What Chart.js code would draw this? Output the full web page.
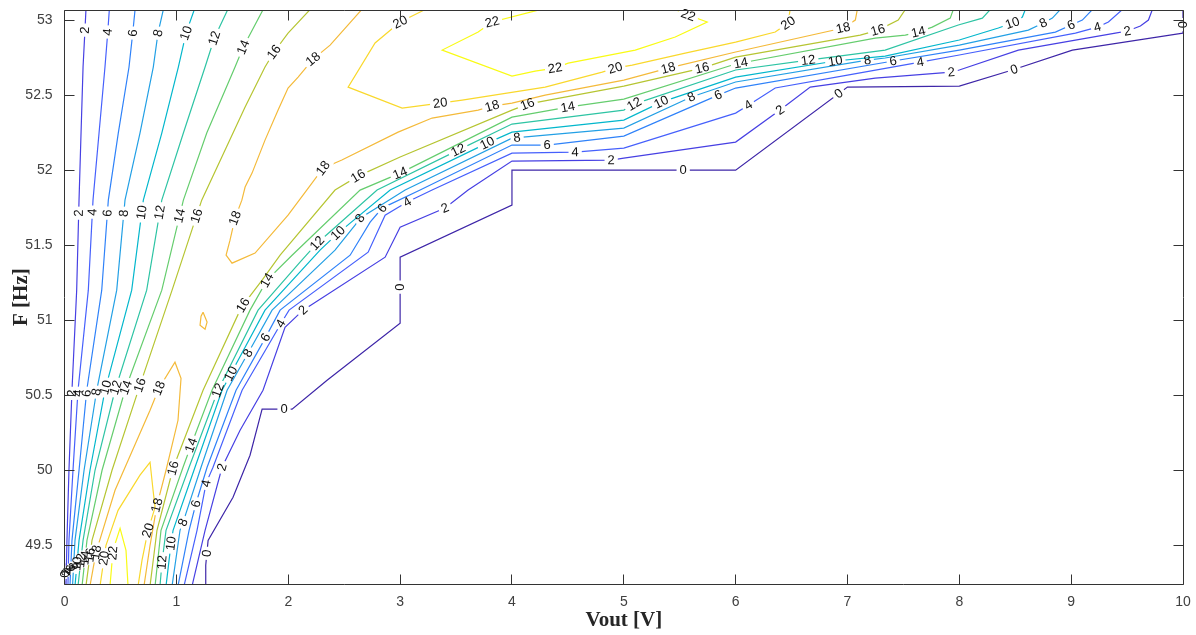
<!DOCTYPE html>
<html>
<head>
<meta charset="utf-8">
<script src="https://cdn.jsdelivr.net/npm/chart.js@4.4.0/dist/chart.umd.min.js"></script>
<style>
  html, body { margin: 0; padding: 0; background: #fff; }
  canvas { display: block; }
</style>
</head>
<body>
<canvas id="contour" width="1196" height="635" style="width:1196px;height:635px"></canvas>
<script>
// Contour levels and axis ticks
const levels = [0, 2, 4, 6, 8, 10, 12, 14, 16, 18, 20, 22];
const xTickValues = [0, 1, 2, 3, 4, 5, 6, 7, 8, 9, 10];
const yTickValues = [49.5, 50, 50.5, 51, 51.5, 52, 52.5, 53];

// Contour polylines: [Vout, F] pairs
const c0 = [[1.262,49.23],[1.262,49.367],[1.283,49.533],[1.506,49.82],[1.658,50.10],[1.766,50.407],[2.034,50.407],[2.347,50.60],[3.0,50.98],[3.0,51.42],[4.0,51.767],[4.0,52.0],[6.0,52.0],[7.0,52.553],[8.0,52.56],[8.474,52.667],[9.011,52.80],[10.0,52.913],[10.0,53.07]];
const c0Corner = [[0,49.23],[0,49.38]];

const c2Left = [[0.191,53.07],[0.182,52.933],[0.165,52.687],[0.147,52.247],[0.129,51.80],[0.108,51.20],[0.066,50.533],[0.039,50.0],[0.021,49.533],[0.0125,49.23]];
const c2Right = [[1.140,49.23],[1.256,49.60],[1.408,50.02],[1.569,50.267],[1.774,50.533],[1.971,50.953],[2.132,51.067],[2.866,51.42],[3.0,51.62],[3.402,51.747],[3.608,51.867],[4.0,52.06],[4.887,52.067],[5.0,52.08],[6.0,52.187],[6.397,52.40],[6.667,52.553],[7.248,52.613],[7.928,52.653],[8.0,52.667],[8.528,52.80],[9.395,52.913],[9.503,52.927],[9.619,52.96],[9.691,53.0],[9.726,53.07]];

const c4Left = [[0.400,53.07],[0.386,52.92],[0.361,52.687],[0.308,52.247],[0.254,51.80],[0.212,51.20],[0.120,50.533],[0.075,50.0],[0.039,49.533],[0.030,49.23]];
const c4Right = [[1.068,49.23],[1.184,49.60],[1.265,49.913],[1.327,50.02],[1.587,50.533],[1.936,50.98],[2.007,51.067],[2.714,51.453],[2.866,51.70],[3.063,51.787],[3.286,51.867],[4.0,52.113],[4.565,52.12],[5.0,52.147],[6.0,52.38],[6.113,52.433],[6.354,52.547],[7.0,52.633],[7.651,52.72],[8.0,52.767],[9.038,52.913],[9.235,52.953],[9.333,52.987],[9.458,53.07]];

const c6Left = [[0.630,53.07],[0.609,52.913],[0.576,52.687],[0.480,52.247],[0.391,51.80],[0.332,51.20],[0.198,50.533],[0.129,50.0],[0.066,49.533],[0.048,49.23]];
const c6Right = [[1.014,49.23],[1.113,49.60],[1.175,49.78],[1.274,50.02],[1.533,50.533],[1.784,50.867],[1.927,51.067],[2.553,51.433],[2.732,51.653],[2.839,51.747],[3.179,51.867],[4.0,52.167],[4.315,52.167],[5.0,52.227],[5.844,52.50],[6.0,52.547],[7.409,52.727],[8.0,52.80],[8.859,52.92],[9.0,52.967],[9.100,53.0],[9.190,53.07]];

const c8Left = [[0.883,53.07],[0.835,52.913],[0.793,52.687],[0.674,52.247],[0.540,51.80],[0.466,51.20],[0.287,50.533],[0.174,50.0],[0.093,49.533],[0.071,49.23]];
const c8Right = [[0.961,49.23],[1.032,49.60],[1.059,49.653],[1.220,50.02],[1.453,50.533],[1.640,50.78],[1.855,51.067],[2.418,51.467],[2.597,51.633],[2.642,51.68],[3.045,51.867],[4.0,52.213],[5.0,52.28],[5.603,52.487],[6.0,52.587],[7.177,52.733],[7.337,52.747],[8.0,52.833],[8.617,52.933],[8.751,52.98],[8.832,53.013],[8.903,53.07]];

const c10Left = [[1.160,53.07],[1.086,52.913],[1.017,52.687],[0.869,52.247],[0.704,51.80],[0.600,51.20],[0.361,50.533],[0.227,50.0],[0.129,49.533],[0.093,49.23]];
const c10Right = [[0.907,49.23],[0.952,49.513],[0.970,49.60],[1.166,50.02],[1.408,50.533],[1.489,50.647],[1.792,51.067],[2.284,51.467],[2.445,51.58],[2.911,51.867],[3.778,52.18],[4.0,52.253],[5.0,52.333],[5.335,52.453],[6.0,52.62],[6.891,52.727],[7.337,52.76],[8.0,52.867],[8.349,52.947],[8.474,52.98],[8.564,53.02],[8.590,53.07]];

const c12Left = [[1.459,53.07],[1.339,52.88],[1.256,52.687],[1.062,52.247],[0.869,51.80],[0.734,51.20],[0.451,50.533],[0.272,50.0],[0.165,49.533],[0.120,49.23]];
const c12Right = [[0.853,49.23],[0.871,49.387],[0.907,49.60],[1.113,50.02],[1.372,50.533],[1.730,51.067],[2.105,51.387],[2.258,51.513],[2.794,51.867],[3.519,52.133],[4.0,52.307],[5.0,52.40],[5.093,52.44],[6.0,52.667],[6.649,52.733],[7.337,52.80],[7.991,52.967],[8.206,53.013],[8.277,53.07]];

const c14Left = [[1.775,53.07],[1.598,52.82],[1.524,52.687],[1.271,52.247],[1.062,51.80],[0.869,51.20],[0.540,50.533],[0.335,50.0],[0.200,49.533],[0.156,49.23]];
const c14Right = [[0.809,49.23],[0.862,49.60],[1.059,50.02],[1.131,50.167],[1.318,50.533],[1.658,51.067],[1.810,51.267],[2.034,51.433],[2.642,51.867],[3.0,51.98],[4.0,52.353],[4.499,52.42],[5.0,52.473],[6.0,52.707],[7.248,52.88],[7.517,52.90],[7.633,52.92],[7.758,52.953],[7.919,53.013],[7.946,53.07]];

const c16Left = [[2.195,53.07],[1.998,52.913],[1.873,52.787],[1.792,52.687],[1.614,52.42],[1.226,51.80],[0.961,51.20],[0.674,50.567],[0.424,50.0],[0.245,49.533],[0.191,49.23]];
const c16Right = [[0.764,49.23],[0.826,49.60],[0.970,50.013],[1.238,50.533],[1.569,51.067],[1.596,51.10],[1.766,51.267],[1.927,51.433],[2.418,51.867],[2.624,51.96],[3.0,52.087],[4.0,52.40],[4.138,52.44],[5.0,52.56],[5.701,52.68],[6.0,52.753],[7.114,52.90],[7.275,52.933],[7.454,53.0],[7.517,53.07]];

const c18Upper = [[2.657,53.07],[2.374,52.833],[2.222,52.74],[2.088,52.62],[1.998,52.547],[1.909,52.40],[1.792,52.20],[1.676,51.98],[1.614,51.887],[1.585,51.80],[1.524,51.68],[1.479,51.533],[1.444,51.433],[1.497,51.38],[1.703,51.447],[1.998,51.70],[2.165,51.867],[2.311,52.013],[2.479,52.067],[2.982,52.253],[3.286,52.347],[3.698,52.40],[3.823,52.427],[4.0,52.447],[4.297,52.50],[5.0,52.60],[5.397,52.68],[6.0,52.787],[6.962,52.947],[7.070,53.0],[7.088,53.07]];
const c18Hump = [[0.227,49.23],[0.281,49.453],[0.451,49.867],[0.764,50.40],[0.844,50.547],[0.987,50.72],[1.041,50.613],[1.014,50.333],[0.907,50.0],[0.826,49.767],[0.764,49.50],[0.710,49.23]];
const c18Islet = [[1.238,51.053],[1.274,50.987],[1.256,50.94],[1.211,50.967],[1.220,51.027],[1.238,51.053]];

const c20Upper = [[3.224,53.07],[3.0,52.987],[2.776,52.847],[2.535,52.553],[3.018,52.413],[3.358,52.447],[3.555,52.467],[4.297,52.553],[4.807,52.653],[4.923,52.68],[5.075,52.70],[5.549,52.78],[6.0,52.853],[6.354,52.92],[6.469,52.98],[6.487,53.07]];
const c20Islet = [[0.317,49.23],[0.370,49.50],[0.478,49.733],[0.674,49.967],[0.764,50.053],[0.791,49.867],[0.809,49.753],[0.746,49.60],[0.692,49.40],[0.657,49.23]];

const c22Upper = [[4.252,53.07],[3.823,52.987],[3.698,52.92],[3.376,52.80],[4.0,52.627],[4.207,52.66],[4.386,52.68],[4.503,52.713],[5.102,52.80],[5.460,52.887],[5.746,52.987],[5.576,53.033],[5.460,53.07]];
const c22Islet = [[0.406,49.23],[0.433,49.467],[0.496,49.613],[0.549,49.467],[0.567,49.23]];

// Inline level labels: [level, Vout, F]
const labelSpots = [
  [0,1.265,49.447],[0,1.962,50.407],[0,3.0,51.22],[0,5.531,52.0],[0,6.918,52.513],[0,8.492,52.667],[0,10.0,52.97],[0,0.0,49.307],
  [2,0.182,52.933],[2,0.138,51.713],[2,0.048,50.513],[2,0.013,49.32],[2,1.408,50.02],[2,2.132,51.067],[2,3.402,51.747],[2,4.887,52.067],[2,6.397,52.40],[2,7.928,52.653],[2,9.503,52.927],
  [4,0.388,52.92],[4,0.254,51.72],[4,0.120,50.513],[4,0.057,49.333],[4,1.265,49.913],[4,1.927,50.98],[4,3.063,51.787],[4,4.565,52.12],[4,6.113,52.433],[4,7.651,52.72],[4,9.235,52.953],
  [6,0.612,52.913],[6,0.388,51.713],[6,0.200,50.513],[6,0.093,49.347],[6,1.157,49.78],[6,1.810,50.88],[6,2.839,51.747],[6,4.315,52.167],[6,5.844,52.50],[6,7.409,52.727],[6,9.0,52.967],
  [8,0.835,52.913],[8,0.523,51.713],[8,0.290,50.52],[8,0.129,49.36],[8,1.059,49.653],[8,1.640,50.78],[8,2.642,51.68],[8,4.047,52.207],[8,5.603,52.487],[8,7.177,52.733],[8,8.751,52.98],
  [10,1.086,52.913],[10,0.674,51.72],[10,0.361,50.553],[10,0.165,49.373],[10,0.943,49.513],[10,1.479,50.647],[10,2.445,51.58],[10,3.778,52.18],[10,5.335,52.453],[10,6.891,52.727],[10,8.474,52.98],
  [12,1.336,52.88],[12,0.835,51.72],[12,0.451,50.553],[12,0.200,49.393],[12,0.862,49.387],[12,1.372,50.533],[12,2.258,51.513],[12,3.519,52.133],[12,5.093,52.44],[12,6.649,52.733],
  [14,1.596,52.82],[14,1.005,51.70],[14,0.540,50.553],[14,0.227,49.413],[14,1.131,50.167],[14,1.810,51.267],[14,3.0,51.98],[14,4.499,52.42],[14,6.05,52.70],[14,7.633,52.92],
  [16,1.873,52.787],[16,1.211,51.687],[16,0.674,50.567],[16,0.254,49.433],[16,0.970,50.013],[16,1.596,51.10],[16,2.624,51.96],[16,4.138,52.44],[16,5.701,52.68],[16,7.275,52.927],
  [18,2.222,52.74],[18,1.524,51.68],[18,2.311,52.013],[18,3.823,52.427],[18,5.397,52.68],[18,6.962,52.947],[18,0.844,50.547],[18,0.826,49.767],[18,0.281,49.453],
  [20,3.0,52.987],[20,3.358,52.447],[20,4.923,52.68],[20,6.469,52.98],[20,0.746,49.60],[20,0.361,49.413],
  [22,3.823,52.987],[22,4.386,52.68],[22,5.576,53.033],[22,0.451,49.447]
];

const contourPaths = [
  [0, c0], [0, c0Corner],
  [2, c2Left], [2, c2Right],
  [4, c4Left], [4, c4Right],
  [6, c6Left], [6, c6Right],
  [8, c8Left], [8, c8Right],
  [10, c10Left], [10, c10Right],
  [12, c12Left], [12, c12Right],
  [14, c14Left], [14, c14Right],
  [16, c16Left], [16, c16Right],
  [18, c18Upper], [18, c18Hump], [18, c18Islet],
  [20, c20Upper], [20, c20Islet],
  [22, c22Upper], [22, c22Islet]
];

// parula colours for each level
const levelColors = [
  'rgb(62,38,168)', 'rgb(71,64,227)', 'rgb(70,96,252)', 'rgb(47,130,249)',
  'rgb(35,160,229)', 'rgb(3,183,204)', 'rgb(46,196,164)', 'rgb(101,205,110)',
  'rgb(182,197,50)', 'rgb(244,186,58)', 'rgb(249,216,44)', 'rgb(249,251,21)'
];
const colorFor = (level) => levelColors[levels.indexOf(level)];

const LABEL_FONT = '13px "Liberation Sans", Arial, sans-serif';
const AXIS_COLOR = '#333333';
const TICK_LEN = 10;

const datasets = contourPaths.map(([level, pts]) => ({
  level,
  data: pts.map(([x, y]) => ({ x, y })),
  showLine: true,
  borderColor: colorFor(level),
  borderWidth: 1.2,
  pointRadius: 0,
  pointHoverRadius: 0,
  fill: false,
  tension: 0,
  clip: 0
}));

// Places each level label on its nearest contour segment, gaps the line under it, draws the text
const contourLabels = {
  id: 'contourLabels',
  beforeDatasetsDraw(chart) {
    const xs = chart.scales.x, ys = chart.scales.y, ctx = chart.ctx;
    ctx.save();
    ctx.font = LABEL_FONT;
    const placed = [];
    for (const [level, v, f] of labelSpots) {
      const px = xs.getPixelForValue(v), py = ys.getPixelForValue(f);
      let best = null;
      chart.data.datasets.forEach(ds => {
        if (ds.level !== level) return;
        const pts = ds.data;
        for (let i = 0; i < pts.length - 1; i++) {
          const ax = xs.getPixelForValue(pts[i].x), ay = ys.getPixelForValue(pts[i].y);
          const bx = xs.getPixelForValue(pts[i + 1].x), by = ys.getPixelForValue(pts[i + 1].y);
          const dx = bx - ax, dy = by - ay, len2 = dx * dx + dy * dy;
          let t = len2 ? ((px - ax) * dx + (py - ay) * dy) / len2 : 0;
          t = Math.max(0, Math.min(1, t));
          const qx = ax + t * dx, qy = ay + t * dy;
          const d = (qx - px) ** 2 + (qy - py) ** 2;
          if (!best || d < best.d) best = { d, x: qx, y: qy, ang: Math.atan2(dy, dx) };
        }
      });
      if (!best) continue;
      let ang = best.ang;
      if (ang > Math.PI / 2) ang -= Math.PI;
      if (ang < -Math.PI / 2) ang += Math.PI;
      const text = String(level);
      placed.push({ level, text, x: best.x, y: best.y, ang, w: ctx.measureText(text).width });
    }
    ctx.restore();
    chart.$labelBoxes = placed;
  },
  beforeDatasetDraw(chart, args) {
    const ds = chart.data.datasets[args.index];
    const ctx = chart.ctx;
    ctx.save();
    ctx.beginPath();
    ctx.rect(0, 0, chart.width, chart.height);
    for (const l of chart.$labelBoxes || []) {
      if (l.level !== ds.level) continue;
      const hw = l.w / 2 + 3, hh = 6;
      const c = Math.cos(l.ang), s = Math.sin(l.ang);
      const corners = [[-hw, -hh], [hw, -hh], [hw, hh], [-hw, hh]]
        .map(([a, b]) => [l.x + a * c - b * s, l.y + a * s + b * c]);
      ctx.moveTo(corners[0][0], corners[0][1]);
      for (let k = 1; k < 4; k++) ctx.lineTo(corners[k][0], corners[k][1]);
      ctx.closePath();
    }
    ctx.clip('evenodd');
  },
  afterDatasetDraw(chart) {
    chart.ctx.restore();
  },
  afterDatasetsDraw(chart) {
    const ctx = chart.ctx, a = chart.chartArea;
    ctx.save();
    ctx.beginPath();
    ctx.rect(a.left - 8, a.top - 8, a.right - a.left + 16, a.bottom - a.top + 16);
    ctx.clip();
    ctx.font = LABEL_FONT;
    ctx.fillStyle = '#111';
    ctx.textAlign = 'center';
    ctx.textBaseline = 'middle';
    for (const l of chart.$labelBoxes || []) {
      ctx.save();
      ctx.translate(l.x, l.y);
      ctx.rotate(l.ang);
      ctx.fillText(l.text, 0, 0.5);
      ctx.restore();
    }
    ctx.restore();
  }
};

// Box around the plot with inward tick marks on all four sides
const boxFrame = {
  id: 'boxFrame',
  afterDraw(chart) {
    const { ctx, chartArea: a, scales: { x, y } } = chart;
    const L = Math.floor(a.left) + 0.5, R = Math.floor(a.right) + 0.5;
    const T = Math.floor(a.top) + 0.5, B = Math.floor(a.bottom) + 0.5;
    ctx.save();
    ctx.strokeStyle = AXIS_COLOR;
    ctx.lineWidth = 1;
    ctx.beginPath();
    ctx.rect(L, T, R - L, B - T);
    x.ticks.forEach(t => {
      const p = Math.floor(x.getPixelForValue(t.value)) + 0.5;
      ctx.moveTo(p, B); ctx.lineTo(p, B - TICK_LEN);
      ctx.moveTo(p, T); ctx.lineTo(p, T + TICK_LEN);
    });
    y.ticks.forEach(t => {
      const p = Math.floor(y.getPixelForValue(t.value)) + 0.5;
      ctx.moveTo(L, p); ctx.lineTo(L + TICK_LEN, p);
      ctx.moveTo(R, p); ctx.lineTo(R - TICK_LEN, p);
    });
    ctx.stroke();
    ctx.restore();
  }
};

const tickFont = { family: '"Liberation Sans", Arial, sans-serif', size: 14 };
const titleFont = { family: '"Liberation Serif", "Times New Roman", serif', size: 21, weight: 'bold' };
const plainNumber = (value) => String(Number(value));

new Chart(document.getElementById('contour'), {
  type: 'scatter',
  data: { datasets },
  options: {
    responsive: false,
    animation: false,
    events: [],
    layout: { padding: { top: 10, right: 13, left: 0, bottom: 0 } },
    plugins: { legend: { display: false }, tooltip: { enabled: false } },
    scales: {
      x: {
        type: 'linear',
        min: 0,
        max: 10,
        grid: { display: false, drawTicks: false },
        border: { display: false },
        afterBuildTicks: (s) => { s.ticks = xTickValues.map(value => ({ value })); },
        ticks: { font: tickFont, color: '#404040', padding: 9, maxRotation: 0, autoSkip: false, callback: plainNumber },
        title: { display: true, text: 'Vout [V]', font: titleFont, color: '#262626', padding: { top: 0, bottom: 1.4 } },
        afterFit: (s) => { s.height = 50.7; s.paddingLeft = 0; s.paddingRight = 0; }
      },
      y: {
        type: 'linear',
        min: 49.24,
        max: 53.067,
        grid: { display: false, drawTicks: false },
        border: { display: false },
        afterBuildTicks: (s) => { s.ticks = yTickValues.map(value => ({ value })); },
        ticks: { font: tickFont, color: '#404040', padding: 12, autoSkip: false, callback: plainNumber },
        title: { display: true, text: 'F [Hz]', font: titleFont, color: '#262626', padding: { top: 9.4, bottom: 0 } },
        afterFit: (s) => { s.width = 64.6; s.paddingTop = 0; s.paddingBottom = 0; }
      }
    }
  },
  plugins: [contourLabels, boxFrame]
});
</script>
</body>
</html>
